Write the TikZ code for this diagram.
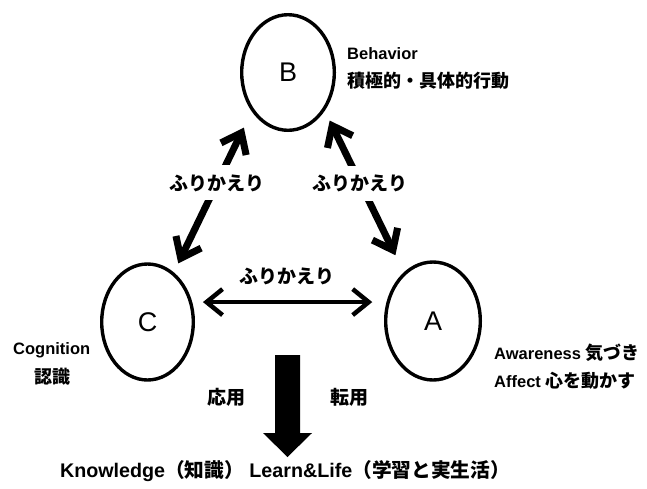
\documentclass[tikz,border=0pt]{standalone}
\usepackage{fontspec}
\setmainfont{Liberation Sans}
\newfontfamily\jp{Noto Sans CJK JP}
\newcommand\jpcap{\jp\fontsize{18}{20}\selectfont}
\usetikzlibrary{arrows.meta,shapes.geometric}

\tikzset{
  stage/.style={ellipse, draw, line width=3.4pt, inner sep=0pt,
    font=\fontsize{27}{27}\selectfont},
  caption/.style={inner sep=0pt, font=\fontsize{16.5}{20}\selectfont\bfseries},
  kana/.style={inner sep=0pt, font=\jp\fontsize{19}{21}\selectfont\bfseries},
  gapbox/.style={kana, fill=white, inner xsep=1pt, inner ysep=9pt},
  barb/.tip={Straight Barb[length=18pt, width=28pt]},
  thinbarb/.tip={Straight Barb[length=16pt, width=26pt]},
  loop/.style={line width=7pt, barb-barb},
  loopthin/.style={line width=4.5pt, thinbarb-thinbarb},
}

\begin{document}
\begin{tikzpicture}[x=1pt, y=-1pt]
\useasboundingbox (0,0) rectangle (647,488);

% the three stages
\node[stage, minimum width=92.6pt, minimum height=115.6pt] (B) at (288,72.5) {B};
\node[stage, minimum width=91.6pt, minimum height=116pt] (C) at (147.5,322) {C};
\node[stage, minimum width=94.6pt, minimum height=118pt] (A) at (433,321) {A};

% captions beside the stages
\node[caption, anchor=base west] (bEn) at (347,59) {Behavior};
\node[caption, anchor=base west] (bJp) at (347,87) {\jpcap 積極的・具体的行動};
\node[caption, anchor=base west] (cEn) at (13,354) {Cognition};
\node[caption, anchor=base] (cJp) at (52,383) {\jpcap 認識};
\node[caption, anchor=base west] (aEn) at (494,359) {Awareness {\jpcap 気づき}};
\node[caption, anchor=base west] (aJp) at (494,387) {Affect {\jpcap 心を動かす}};

% reflection arrows between the stages
\draw[loop, shorten <=18pt, shorten >=10pt]
  (B.227.6) -- node[gapbox, pos=.444] (rBC) {ふりかえり} (C.62.4);
\draw[loop, shorten <=11pt, shorten >=19pt]
  (B.314.7) -- node[gapbox, pos=.449] (rBA) {ふりかえり} (A.121.4);
\draw[loopthin, shorten <=10.7pt, shorten >=14.4pt]
  (C.24.1) -- (C.24.1 -| A.157.8);
\node[kana] (rCA) at (287,276) {ふりかえり};

% application / transfer
\node[kana] (use1) at (226,397) {応用};
\node[kana] (use2) at (349,397) {転用};
\fill (275,355) -- (300,355) -- (300,433) -- (312,433) -- (287.5,457)
  -- (263,433) -- (275,433) -- cycle;

\node[caption, anchor=base, font=\fontsize{19.7}{22}\selectfont\bfseries] (out) at (285,477)
  {Knowledge{\jp （知識）} Learn\&Life{\jp （学習と実生活）}};
\end{tikzpicture}
\end{document}
